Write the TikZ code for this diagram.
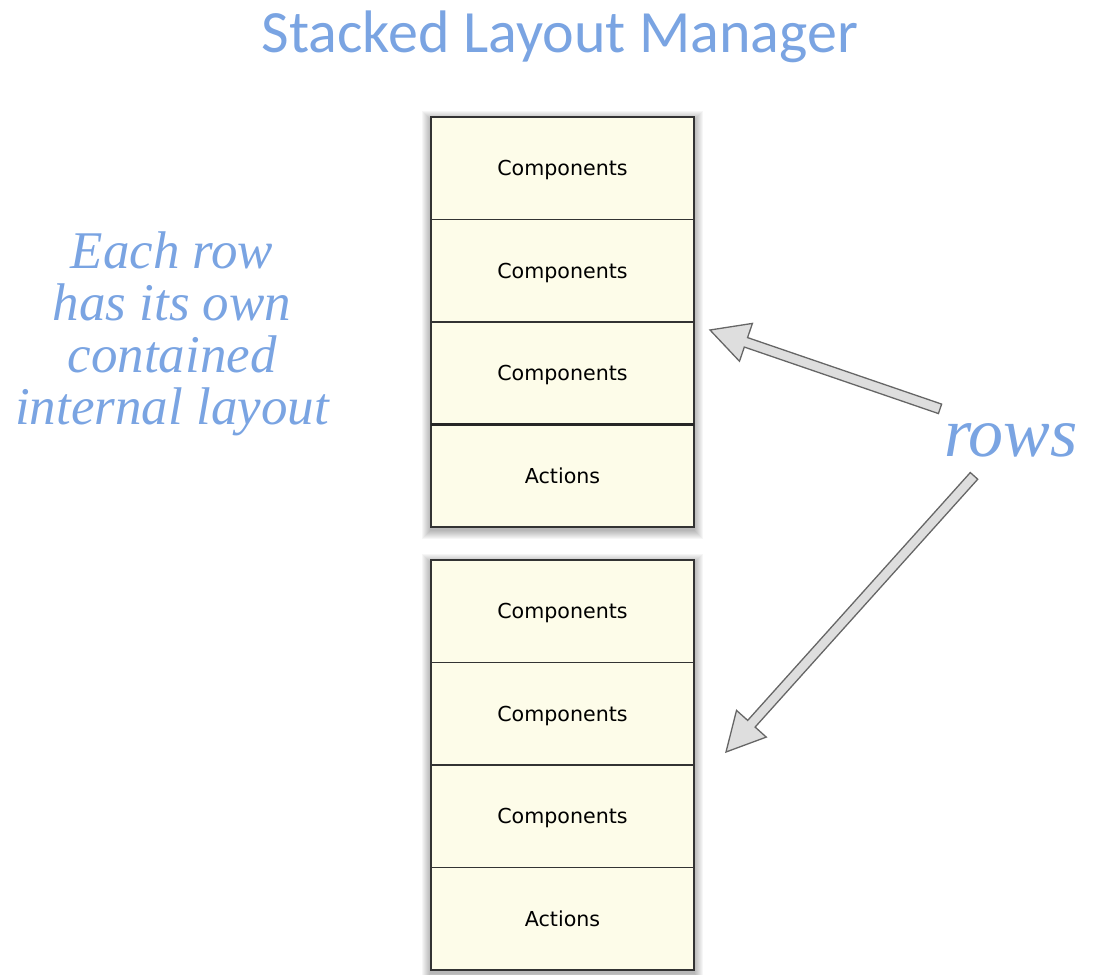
\documentclass[tikz,border=0pt]{standalone}
\usepackage{fontspec}
\setmainfont{Liberation Serif}
\newfontfamily\calibri{Carlito}
\newfontfamily\lucida{DejaVu Sans}
\usetikzlibrary{positioning,calc,backgrounds}

\definecolor{titleblue}{RGB}{122,164,226}
\definecolor{rowfill}{RGB}{253,252,233}
\definecolor{arrowgray}{RGB}{222,222,222}

\tikzset{
  rowbox/.style={draw=black!80, line width=1.6pt, fill=rowfill, minimum width=263pt,
    minimum height=102.5pt, inner sep=0pt, outer sep=0pt, text depth=0pt,
    font=\lucida\fontsize{20.6}{24}\selectfont},
  glow/.style={fill=black, opacity=0.035},
  arrowbody/.style={fill=arrowgray, draw=black!60, line width=1.3pt, line join=miter},
  note/.style={text=titleblue, font=\itshape\fontsize{53}{52}\selectfont, inner sep=0pt}
}

% fat hollow arrow from #1 to #2
\newcommand{\rowsarrow}[2]{%
  \coordinate (hb) at ($(#2)!38pt!(#1)$);
  \filldraw[arrowbody] ($(#1)!5pt!90:(#2)$) -- ($(hb)!5pt!90:(#2)$) -- ($(hb)!20pt!90:(#2)$)
    -- (#2) -- ($(hb)!20pt!-90:(#2)$) -- ($(hb)!5pt!-90:(#2)$) -- ($(#1)!5pt!-90:(#2)$) -- cycle;}

\begin{document}
\begin{tikzpicture}[x=1pt,y=-1pt]
\useasboundingbox (0,0) rectangle (1096,975);

% title
\node[anchor=base, text=titleblue, font=\calibri\fontsize{60}{60}\selectfont, inner sep=0pt]
  (title) at (560,52) {Stacked Layout Manager};

% upper stack
\node[rowbox] (a1) at (562.5,168.25) {Components};
\node[rowbox, below=0pt of a1] (a2) {Components};
\node[rowbox, below=0pt of a2] (a3) {Components};
\node[rowbox, below=0pt of a3] (a4) {Actions};
\draw[line width=3pt, black!85] (a4.north west) -- (a4.north east);

% lower stack
\node[rowbox, below=33pt of a4] (b1) {Components};
\node[rowbox, below=0pt of b1] (b2) {Components};
\node[rowbox, below=0pt of b2] (b3) {Components};
\node[rowbox, below=0pt of b3] (b4) {Actions};

% shadows
\begin{scope}[on background layer]
\foreach \s in {1,...,9} {
  \fill[glow] ($(a1.north west)+(-\s,-\s+3)$) rectangle ($(a4.south east)+(\s,\s+3)$);
  \fill[glow] ($(b1.north west)+(-\s,-\s+3)$) rectangle ($(b4.south east)+(\s,\s+3)$);
}
\end{scope}

% notes
\node[note, align=center] (each) at (172,334) {Each row\\has its own\\contained\\internal layout};
\node[text=titleblue, font=\itshape\fontsize{70}{70}\selectfont, anchor=base, inner sep=0pt]
  (rows) at (1011,456) {rows};

% arrows
\coordinate (tail1) at ($(rows.north west)+(-4,-14)$);
\coordinate (tail2) at ($(rows.south west)+(30,19)$);
\coordinate (tip1) at ($(a3.north east)+(16,8)$);
\coordinate (tip2) at ($(b2.south east)+(32,-13)$);
\rowsarrow{tail1}{tip1}
\rowsarrow{tail2}{tip2}

\end{tikzpicture}
\end{document}
